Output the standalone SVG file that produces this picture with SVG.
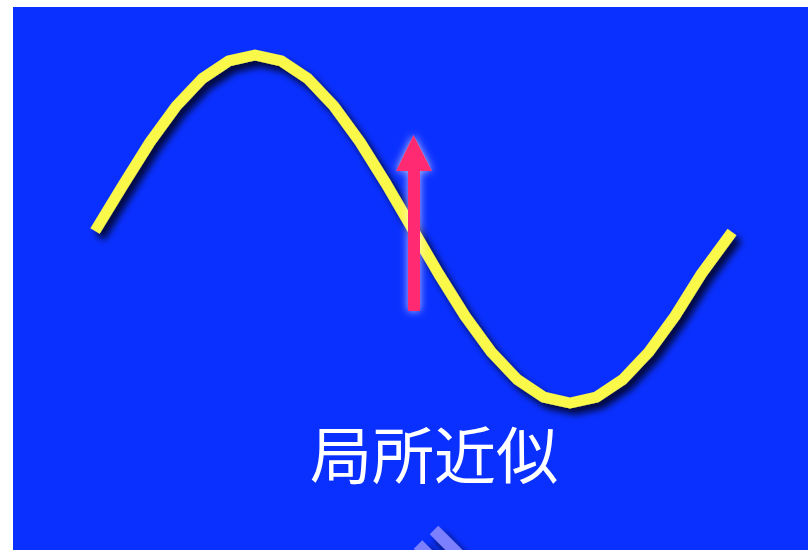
<svg xmlns="http://www.w3.org/2000/svg" width="808" height="550" viewBox="0 0 808 550">
  <defs>
    <filter id="shadow" x="-10%" y="-10%" width="120%" height="130%">
      <feDropShadow dx="5" dy="6" stdDeviation="3.5" flood-color="#000010" flood-opacity="0.85"/>
    </filter>
    <filter id="glow" x="-50%" y="-20%" width="200%" height="140%">
      <feGaussianBlur in="SourceAlpha" stdDeviation="4" result="b"/>
      <feFlood flood-color="#ffffff" flood-opacity="0.7"/>
      <feComposite in2="b" operator="in" result="g"/>
      <feMerge><feMergeNode in="g"/><feMergeNode in="SourceGraphic"/></feMerge>
    </filter>
    <style>
      .curve { fill: none; stroke: #FAF84A; stroke-width: 11; stroke-linejoin: round; stroke-linecap: butt; }
      .stripe { stroke: #7C80FF; stroke-width: 12; stroke-linecap: butt; }
      .label { font-family: "Noto Sans CJK JP", "Noto Sans CJK SC", sans-serif; font-size: 62px; fill: #ffffff; }
    </style>
  </defs>
  <rect x="0" y="0" width="808" height="550" fill="#ffffff"/>
  <rect x="13" y="7" width="795" height="543" fill="#0A30FF"/>

  <g id="sine" filter="url(#shadow)">
    <polyline class="curve" points="95,231 123.75,183.97 150,142 176.25,105.96 202.5,78.31 228.75,60.93 255,55 281.25,60.93 307.5,78.31 333.75,105.96 360,142 386.25,183.97 412.5,229 438.75,274.03 465,316 491.25,352.04 517.5,379.69 543.75,397.07 570,403 596.25,397.07 622.5,379.69 648.75,352.04 675,316 701.25,274.03 732,232"/>
  </g>

  <g id="arrow" filter="url(#glow)">
    <rect x="408" y="170" width="12" height="141" fill="#FF2C72"/>
    <polygon points="413.5,135 396,171 432,171" fill="#FF2C72"/>
  </g>

  <g id="label">
    <text class="label" x="434" y="479" text-anchor="middle">局所近似</text>
  </g>

  <g id="stripes" filter="url(#shadow)">
    <line class="stripe" x1="434" y1="530" x2="474" y2="570"/>
    <line class="stripe" x1="418" y1="544.5" x2="458" y2="584.5"/>
  </g>
</svg>
